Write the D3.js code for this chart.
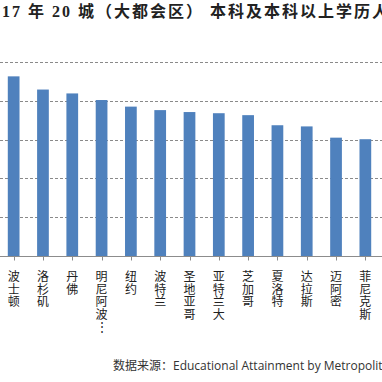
<!DOCTYPE html>
<html>
<head>
<meta charset="utf-8">
<script src="https://cdn.jsdelivr.net/npm/d3@7"></script>
<style>
html,body{margin:0;padding:0;background:#fff;overflow:hidden;}
svg{display:block;}
</style>
</head>
<body>
<svg id="chart" width="382" height="382"></svg>
<script>
const cities = ["波士顿","洛杉矶","丹佛","明尼阿波⋮","纽约","波特兰","圣地亚哥","亚特兰大","芝加哥","夏洛特","达拉斯","迈阿密","菲尼克斯"];
const values = [46.3, 42.9, 41.9, 40.2, 38.5, 37.6, 37.1, 36.8, 36.3, 33.7, 33.4, 30.5, 30.1];
const yTicks = [0, 10, 20, 30, 40, 50];
const titleText = "2017 年 20 城（大都会区） 本科及本科以上学历人口占比";
const sourceText = "数据来源：Educational Attainment by Metropolitan Area";

const svg = d3.select("#chart");
const W = 382;

const x = d3.scaleBand().domain(cities).range([-1, 380]).paddingInner(0.6).paddingOuter(0.3);
const y = d3.scaleLinear().domain([0, 50]).range([256, 62]);

// gridlines
svg.append("g").selectAll("line").data(yTicks.filter(d => d > 0)).join("line")
  .attr("x1", 0).attr("x2", W)
  .attr("y1", d => Math.round(y(d)) + 0.5).attr("y2", d => Math.round(y(d)) + 0.5)
  .attr("stroke", "#8a8a8a").attr("stroke-width", 1).attr("stroke-dasharray", "3,2");

// bars
svg.append("g").selectAll("rect").data(cities).join("rect")
  .attr("x", d => x(d))
  .attr("width", x.bandwidth())
  .attr("y", (d, i) => y(values[i]))
  .attr("height", (d, i) => y(0) - y(values[i]))
  .attr("fill", "#4f81bd");

// x axis
const axis = svg.append("g").attr("transform", `translate(0,${Math.round(y(0)) + 0.5})`);
axis.append("line").attr("x1", 0).attr("x2", W).attr("stroke", "#8c8c8c");
axis.selectAll("line.tick").data(cities).join("line").attr("class", "tick")
  .attr("x1", d => Math.round(x(d) + x.bandwidth() / 2) + 0.5)
  .attr("x2", d => Math.round(x(d) + x.bandwidth() / 2) + 0.5)
  .attr("y1", 0).attr("y2", 4).attr("stroke", "#8c8c8c");

// vertical labels
const lab = svg.append("g");
cities.forEach(c => {
  const cx = x(c) + x.bandwidth() / 2;
  const t = lab.append("text")
    .attr("text-anchor", "middle")
    .attr("font-family", "'Noto Sans CJK SC', sans-serif")
    .attr("font-size", 12)
    .attr("fill", "#222");
  Array.from(c).forEach((ch, k) => {
    t.append("tspan").attr("x", cx).attr("y", 281 + k * 12.5).text(ch);
  });
});

// title
svg.append("text")
  .attr("x", -18).attr("y", 17)
  .attr("font-family", "'Liberation Serif', 'Noto Sans CJK SC', serif")
  .attr("font-size", 16).attr("font-weight", "bold")
  .attr("letter-spacing", 2.0)
  .attr("fill", "#222")
  .text(titleText);

// source
svg.append("text")
  .attr("x", 113).attr("y", 370)
  .attr("font-family", "'Open Sans', 'Noto Sans CJK SC', sans-serif")
  .attr("font-size", 12)
  .attr("fill", "#333")
  .text(sourceText);
</script>
</body>
</html>
